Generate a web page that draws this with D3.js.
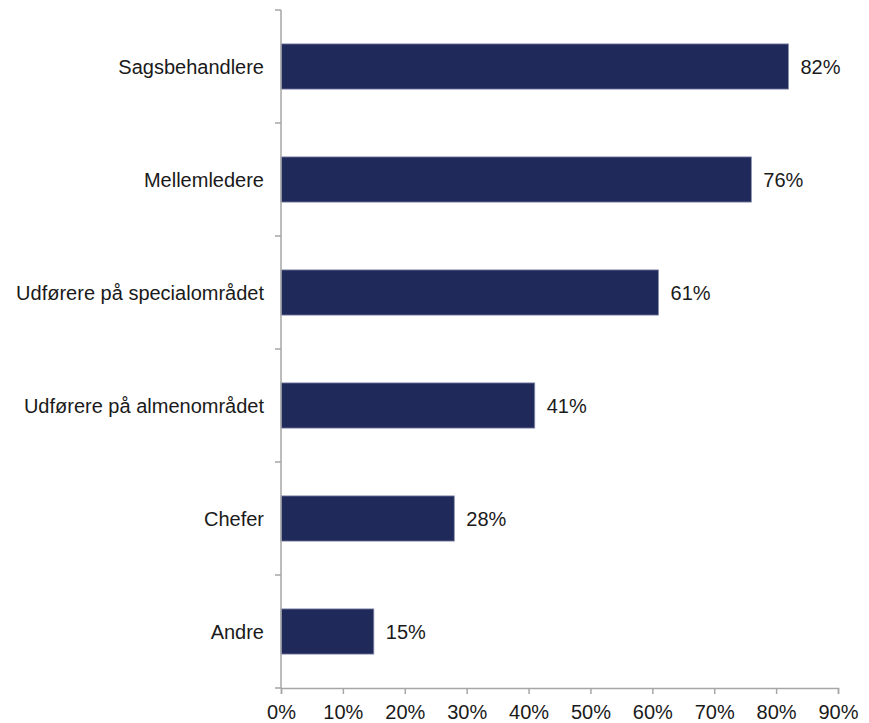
<!DOCTYPE html>
<html><head><meta charset="utf-8">
<script src="https://cdn.jsdelivr.net/npm/d3@7"></script>
<style>body{margin:0;background:#fff}text{font-family:"Liberation Sans",Arial,sans-serif}</style>
</head><body><svg id="c" width="869" height="723"></svg>
<script>
const categories = ["Sagsbehandlere","Mellemledere","Udførere på specialområdet","Udførere på almenområdet","Chefer","Andre"];
const values = [82,76,61,41,28,15];
const xTicks = [0,10,20,30,40,50,60,70,80,90];

(function(){
const svg = d3.select("#c");
const mLeft = 281, mRight = 838, mTop = 10, mBottom = 688;
const fs = 20;
const x = d3.scaleLinear().domain([0,90]).range([mLeft,mRight]);
const y = d3.scaleBand().domain(categories).range([mTop,mBottom]).paddingInner(0.6).paddingOuter(0.3);
const axisColor = "#a6a6a6";

// bars
svg.selectAll("rect.bar").data(values).enter().append("rect")
  .attr("x", x(0)).attr("y",(d,i)=>y(categories[i]))
  .attr("width", d=>x(d)-x(0)).attr("height", y.bandwidth())
  .attr("fill","#1f295a").attr("stroke","#8a90ad").attr("stroke-width",0.8);

// value labels
svg.selectAll("text.val").data(values).enter().append("text")
  .attr("x", d=>x(d)+12).attr("y",(d,i)=>y(categories[i])+y.bandwidth()/2)
  .attr("dy","0.35em").attr("font-size",fs).attr("fill","#1a1a1a")
  .text(d=>d+"%");

// category labels
svg.selectAll("text.cat").data(categories).enter().append("text")
  .attr("x", 264).attr("y", d=>y(d)+y.bandwidth()/2)
  .attr("dy","0.35em").attr("text-anchor","end").attr("font-size",fs).attr("fill","#1a1a1a")
  .text(d=>d);

// y axis
const step = y.step();
const yTickPos = d3.range(categories.length+1).map(i=>mTop+i*step);
svg.append("line").attr("x1",mLeft).attr("x2",mLeft).attr("y1",mTop).attr("y2",mBottom)
  .attr("stroke",axisColor).attr("stroke-width",1.5);
svg.selectAll("line.yt").data(yTickPos).enter().append("line")
  .attr("x1",mLeft-6).attr("x2",mLeft).attr("y1",d=>d).attr("y2",d=>d)
  .attr("stroke",axisColor).attr("stroke-width",1.5);

// x axis
const xAxis = d3.axisBottom(x).tickValues(xTicks).tickFormat(d=>d+"%").tickSize(6).tickPadding(11);
const gx = svg.append("g").attr("transform",`translate(0,${mBottom})`).call(xAxis);
gx.select(".domain").attr("stroke",axisColor).attr("stroke-width",1.5);
gx.selectAll(".tick line").attr("stroke",axisColor).attr("stroke-width",1.5);
gx.selectAll(".tick text").attr("font-size",fs).attr("fill","#1a1a1a")
  .attr("font-family",'"Liberation Sans",Arial,sans-serif');
})();
</script></body></html>
